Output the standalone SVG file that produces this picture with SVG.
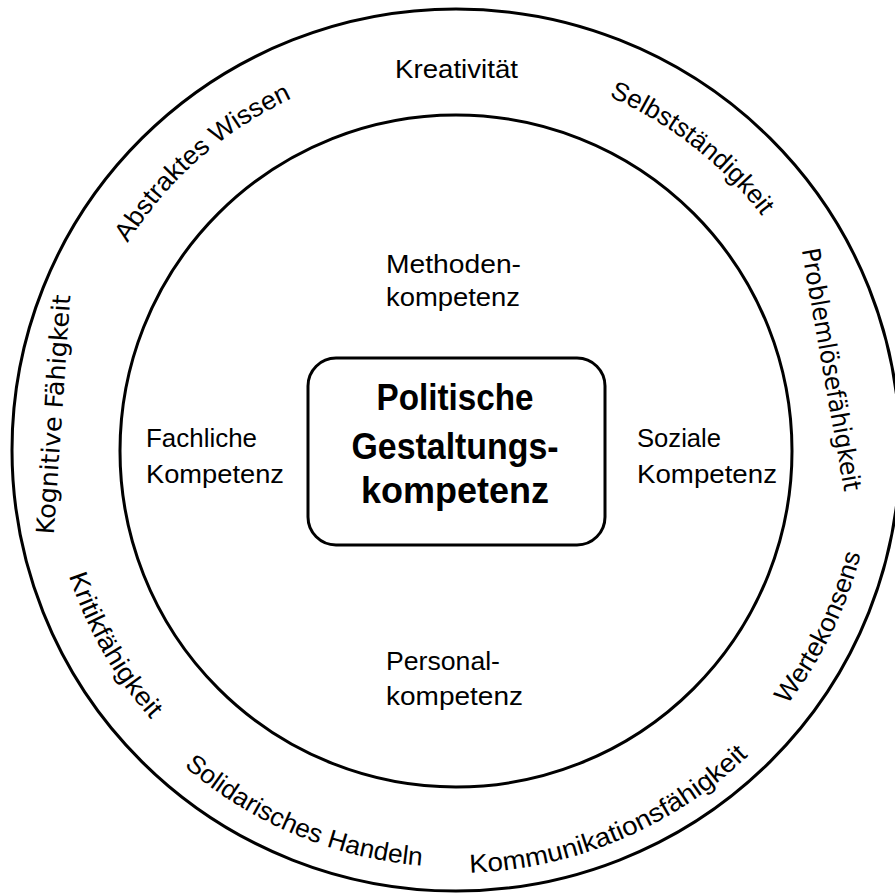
<svg xmlns="http://www.w3.org/2000/svg" width="895" height="894" viewBox="0 0 895 894">
<style>
.ring{fill:none;stroke:#000;stroke-width:3}
.t{font-family:"Liberation Sans",Arial,sans-serif;font-size:26px;fill:#000}
.v{font-family:"DejaVu Sans",Verdana,sans-serif;font-size:25px;fill:#000}
.b{font-family:"Liberation Sans",Arial,sans-serif;font-size:37px;font-weight:bold;fill:#000}
</style>
<defs>
<path id="pAbs" d="M 75.6 526.7 A 388 388 0 0 1 579.8 82.3"/>
<path id="pSel" d="M 311.8 93.0 A 385 385 0 0 1 837.3 503.6"/>
<path id="pWer" d="M 485.2 867.0 A 418 418 0 0 0 802.5 216.3"/>
<path id="pKom" d="M 200.3 786.9 A 423 423 0 0 0 875.7 503.0"/>
<path id="pSol" d="M 42.4 503.0 A 417 417 0 0 0 708.7 781.7"/>
<path id="pKri" d="M 104.6 244.7 A 407 407 0 0 0 453.9 857.0"/>
</defs>
<rect width="895" height="894" fill="#fff"/>
<g id="outer-ring">
<ellipse class="ring" cx="456" cy="450" rx="444" ry="441"/>
<text class="t" x="395" y="78" textLength="123" lengthAdjust="spacingAndGlyphs">Kreativität</text>
<text class="t"><textPath href="#pAbs" startOffset="50%" text-anchor="middle" textLength="222" lengthAdjust="spacingAndGlyphs">Abstraktes Wissen</textPath></text>
<text class="t"><textPath href="#pSel" startOffset="50%" text-anchor="middle" textLength="196" lengthAdjust="spacingAndGlyphs">Selbstständigkeit</textPath></text>
<text class="v" text-anchor="middle" transform="translate(823,371) rotate(80)" textLength="246" lengthAdjust="spacingAndGlyphs">Problemlösefähigkeit</text>
<text class="t"><textPath href="#pWer" startOffset="50%" text-anchor="middle" textLength="169" lengthAdjust="spacingAndGlyphs">Wertekonsens</textPath></text>
<text class="t"><textPath href="#pKom" startOffset="50%" text-anchor="middle" textLength="309" lengthAdjust="spacingAndGlyphs">Kommunikationsfähigkeit</textPath></text>
<text class="t"><textPath href="#pSol" startOffset="50%" text-anchor="middle" textLength="262" lengthAdjust="spacingAndGlyphs">Solidarisches Handeln</textPath></text>
<text class="t"><textPath href="#pKri" startOffset="50%" text-anchor="middle" textLength="167" lengthAdjust="spacingAndGlyphs">Kritikfähigkeit</textPath></text>
<text class="v" text-anchor="middle" transform="translate(62,415) rotate(-86)" textLength="240" lengthAdjust="spacingAndGlyphs">Kognitive Fähigkeit</text>
</g>
<g id="inner-ring">
<circle class="ring" cx="456" cy="451" r="336"/>
<text class="t" x="386" y="273" textLength="135" lengthAdjust="spacingAndGlyphs">Methoden-</text>
<text class="t" x="386" y="306" textLength="134" lengthAdjust="spacingAndGlyphs">kompetenz</text>
<text class="t" x="146" y="447" textLength="111" lengthAdjust="spacingAndGlyphs">Fachliche</text>
<text class="t" x="146" y="483" textLength="138" lengthAdjust="spacingAndGlyphs">Kompetenz</text>
<text class="t" x="637" y="447" textLength="84" lengthAdjust="spacingAndGlyphs">Soziale</text>
<text class="t" x="637" y="483" textLength="140" lengthAdjust="spacingAndGlyphs">Kompetenz</text>
<text class="t" x="386" y="670" textLength="114" lengthAdjust="spacingAndGlyphs">Personal-</text>
<text class="t" x="386" y="705" textLength="137" lengthAdjust="spacingAndGlyphs">kompetenz</text>
</g>
<g id="center">
<rect x="308" y="358" width="297" height="187" rx="28" ry="28" fill="#fff" stroke="#000" stroke-width="3"/>
<text class="b" x="455" y="410" text-anchor="middle" textLength="157" lengthAdjust="spacingAndGlyphs">Politische</text>
<text class="b" x="455" y="459" text-anchor="middle" textLength="207" lengthAdjust="spacingAndGlyphs">Gestaltungs-</text>
<text class="b" x="455" y="503" text-anchor="middle" textLength="188" lengthAdjust="spacingAndGlyphs">kompetenz</text>
</g>
<g id="connectors"></g>
</svg>
